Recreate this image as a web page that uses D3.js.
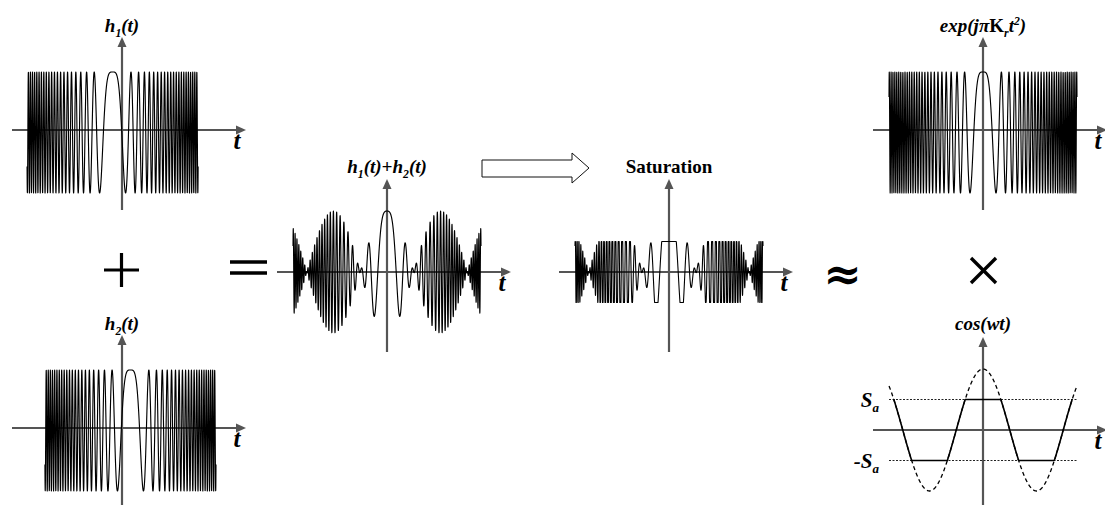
<!DOCTYPE html>
<html><head><meta charset="utf-8">
<script src="https://cdn.jsdelivr.net/npm/d3@7"></script>
<style>html,body{margin:0;padding:0;background:#fff;}svg{display:block;}</style>
</head><body>
<svg id="chart" width="1105" height="505"></svg>
<script>
// ---------------- data ----------------
const panelNames   = ["h1", "h2", "sum", "sat", "exp", "cos"];
const chirpRate    = [52.3];            // K  (phase = pi*K*t^2, t in normalised time)
const chirpDelays  = [-0.10, 0.09, 0];  // h1, h2, exp(j pi Kr t^2)
const chirpHalfLen = [0.91, 0.91, 1.0]; // half duration of each chirp
const beatFreq     = [5.52];            // w of cos(wt)
const satLevel     = [0.5];             // Sa (fraction of peak)
const sumSpan      = [-1, 1];
const cosSolidSpan = [-0.957, 0.95];
const axisLabel    = ["t"];
const opSymbols    = ["+", "=", "≈", "×"];

// ---------------- setup ----------------
const svg = d3.select("#chart");
const FONT = "'Liberation Serif','Times New Roman',serif";
const AX = "#555";
const layout = {
  h1:  {cx:122, cy:130}, h2:  {cx:122, cy:428},
  sum: {cx:387, cy:272}, sat: {cx:669, cy:272},
  exp: {cx:983, cy:130}, cos: {cx:983, cy:430}
};

function scales(p, asym) {
  const L = layout[p];
  return {
    x: d3.scaleLinear().domain([-1, 1]).range([L.cx - 94, L.cx + 94]),
    y: asym ? d3.scaleLinear().domain([-1, 1]).range([L.cy + 63, L.cy - 58])
            : d3.scaleLinear().domain([-1, 1]).range([L.cy + 61, L.cy - 61])
  };
}

function drawAxes(p) {
  const {cx, cy} = layout[p];
  const g = svg.append("g");
  g.append("line").attr("x1", cx - 110).attr("x2", cx + 116).attr("y1", cy).attr("y2", cy)
    .attr("stroke", AX).attr("stroke-width", 2.2);
  g.append("path").attr("d", `M${cx+124},${cy} L${cx+114},${cy-4.5} L${cx+114},${cy+4.5} Z`).attr("fill", AX);
  g.append("line").attr("x1", cx).attr("x2", cx).attr("y1", cy + 80).attr("y2", cy - 85)
    .attr("stroke", AX).attr("stroke-width", 2.2);
  g.append("path").attr("d", `M${cx},${cy-93} L${cx-4.5},${cy-83} L${cx+4.5},${cy-83} Z`).attr("fill", AX);
  g.append("text").attr("x", cx + 115).attr("y", cy + 19).attr("text-anchor", "middle")
    .attr("font-family", FONT).attr("font-weight", "bold").attr("font-style", "italic")
    .attr("font-size", 25).text(axisLabel[0]);
}

function richText(x, y, parts, size, anchor) {
  const t = svg.append("text").attr("x", x).attr("y", y).attr("text-anchor", anchor || "middle")
    .attr("font-family", FONT).attr("font-weight", "bold").attr("font-size", size).attr("fill", "#000");
  let shift = 0;
  parts.forEach(p => {
    const target = p.sub ? size * 0.25 : p.sup ? -size * 0.38 : 0;
    t.append("tspan").attr("dy", target - shift)
      .attr("font-size", (p.sub || p.sup) ? size * 0.62 : size)
      .attr("font-style", p.up ? "normal" : "italic").text(p.t);
    shift = target;
  });
  return t;
}

function sample(a, b, f) {
  const n = Math.ceil((b - a) * 94 * 12);
  return d3.range(n + 1).map(i => { const t = a + (b - a) * i / n; return [t, f(t)]; });
}

function drawCurve(p, pts, asym, opts) {
  const s = scales(p, asym);
  const line = d3.line().x(d => s.x(d[0])).y(d => s.y(d[1]));
  const path = svg.append("path").attr("d", line(pts)).attr("fill", "none")
    .attr("stroke", opts.color || "#000").attr("stroke-width", opts.width || 1)
    .attr("stroke-linejoin", "round");
  if (opts.dash) path.attr("stroke-dasharray", opts.dash);
  return path;
}

const K = chirpRate[0], w = beatFreq[0], Sa = satLevel[0];
const chirp = (t, d) => Math.cos(Math.PI * K * (t - d) * (t - d));
const beat = t => chirp(t, 0) * Math.cos(w * t);
const clip = v => Math.max(-Sa, Math.min(Sa, v));

// ---------------- panels ----------------
panelNames.forEach(drawAxes);

// chirps h1, h2, exp
[["h1", 0], ["h2", 1], ["exp", 2]].forEach(([p, i]) => {
  const d = chirpDelays[i], h = chirpHalfLen[i];
  drawCurve(p, sample(d - h, d + h, t => chirp(t, d)), true, {width: 1.15});
});

// sum and saturated sum
drawCurve("sum", sample(sumSpan[0], sumSpan[1], beat), false, {width: 1.15});
drawCurve("sat", sample(sumSpan[0], sumSpan[1], t => clip(beat(t))), false, {width: 1.1});

// cos(wt) panel
{
  const s = scales("cos", false);
  [Sa, -Sa].forEach(v => {
    svg.append("line").attr("x1", s.x(-1)).attr("x2", s.x(1)).attr("y1", s.y(v)).attr("y2", s.y(v))
      .attr("stroke", "#222").attr("stroke-width", 1).attr("stroke-dasharray", "2,1.5");
  });
  drawCurve("cos", sample(-1, 1, t => Math.cos(w * t)), false, {width: 1.3, dash: "4,3"});
  drawCurve("cos", sample(cosSolidSpan[0], cosSolidSpan[1], t => clip(Math.cos(w * t))), false, {width: 1.6});
  richText(879, s.y(Sa) + 7, [{t:"S"}, {t:"a", sub:true}], 21, "end");
  richText(879, s.y(-Sa) + 7, [{t:"-S"}, {t:"a", sub:true}], 21, "end");
}

// titles
const T = 19;
richText(layout.h1.cx,  layout.h1.cy - 98,  [{t:"h"}, {t:"1", sub:true}, {t:"(t)"}], T);
richText(layout.h2.cx,  layout.h2.cy - 98,  [{t:"h"}, {t:"2", sub:true}, {t:"(t)"}], T);
richText(layout.sum.cx, layout.sum.cy - 99, [{t:"h"}, {t:"1", sub:true}, {t:"(t)+h"}, {t:"2", sub:true}, {t:"(t)"}], T);
richText(layout.sat.cx, layout.sat.cy - 99, [{t:"Saturation", up:true}], T);
richText(layout.exp.cx, layout.exp.cy - 98, [{t:"exp(j"}, {t:"π"}, {t:"K", up:true}, {t:"r", sub:true}, {t:"t"}, {t:"2", sup:true}, {t:")"}], T);
richText(layout.cos.cx, layout.cos.cy - 100, [{t:"cos(wt)"}], T);

// big hollow arrow
svg.append("path")
  .attr("d", "M482,160 L572,160 L572,153 L589,168 L572,183 L572,177 L482,177 Z")
  .attr("fill", "#fff").attr("stroke", "#111").attr("stroke-width", 1);

// operator symbols
{
  const g = svg.append("g").attr("stroke", "#000").attr("fill", "none");
  // +
  g.append("line").attr("x1", 104).attr("x2", 139).attr("y1", 270).attr("y2", 270).attr("stroke-width", 3.2);
  g.append("line").attr("x1", 121.5).attr("x2", 121.5).attr("y1", 253).attr("y2", 287).attr("stroke-width", 3.2);
  // =
  g.append("line").attr("x1", 230).attr("x2", 267).attr("y1", 262).attr("y2", 262).attr("stroke-width", 3.6);
  g.append("line").attr("x1", 230).attr("x2", 267).attr("y1", 273).attr("y2", 273).attr("stroke-width", 3.6);
  // ×
  g.append("line").attr("x1", 971).attr("x2", 996).attr("y1", 258).attr("y2", 283).attr("stroke-width", 3.4);
  g.append("line").attr("x1", 996).attr("x2", 971).attr("y1", 258).attr("y2", 283).attr("stroke-width", 3.4);
  g.append("desc").text(opSymbols.join(" "));
}
svg.append("text").attr("x", 842.5).attr("y", 290).attr("text-anchor", "middle")
  .attr("font-family", "'DejaVu Serif',serif").attr("font-weight", "bold").attr("font-size", 46)
  .text(opSymbols[2]);
</script>
</body></html>
